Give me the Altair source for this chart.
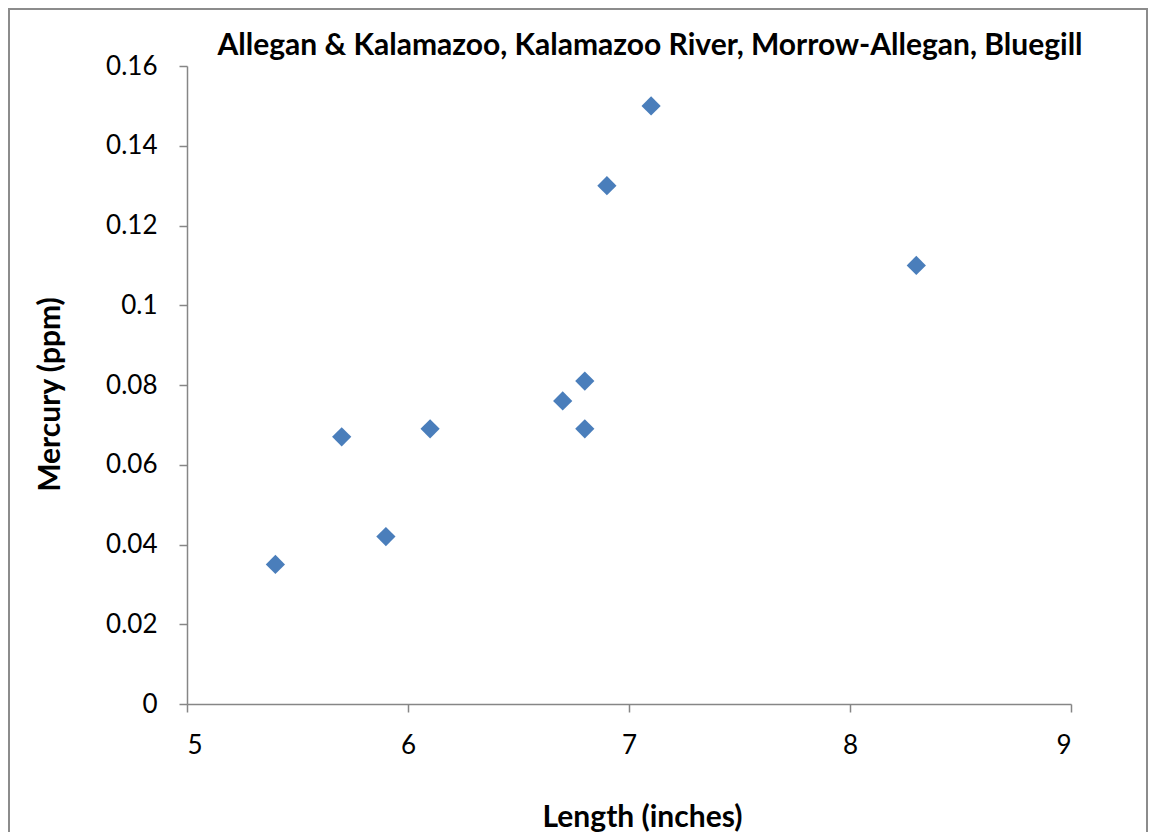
import altair as alt
import pandas as pd

length_in = [5.4, 5.7, 5.9, 6.1, 6.7, 6.8, 6.8, 6.9, 7.1, 8.3]
mercury_ppm = [0.035, 0.067, 0.042, 0.069, 0.076, 0.081, 0.069, 0.130, 0.150, 0.110]
x_ticks = [5, 6, 7, 8, 9]
y_ticks = [0, 0.02, 0.04, 0.06, 0.08, 0.10, 0.12, 0.14, 0.16]
title_text = "Allegan & Kalamazoo, Kalamazoo River, Morrow-Allegan, Bluegill"

df = pd.DataFrame({"Length": length_in, "Mercury": mercury_ppm})

FONT = "Lato"
AXIS_COLOR = "#868686"

points = alt.Chart(df).mark_point(
    shape="diamond", filled=True, size=370, color="#4A7EBB", opacity=1
).encode(
    x=alt.X("Length:Q",
            scale=alt.Scale(domain=[5, 9], nice=False, zero=False),
            axis=alt.Axis(values=x_ticks, format="d", title="Length (inches)",
                          titlePadding=44, labelPadding=20, titleX=455)),
    y=alt.Y("Mercury:Q",
            scale=alt.Scale(domain=[0, 0.16], nice=False),
            axis=alt.Axis(values=y_ticks, format="~g", title="Mercury (ppm)",
                          titlePadding=40, labelPadding=22, titleY=328)),
)

border = alt.Chart(df).mark_rect(
    fill=None, stroke="#8c8c8c", strokeWidth=1.5
).encode(
    x=alt.value(-178), x2=alt.value(960),
    y=alt.value(-57), y2=alt.value(800),
)

title = alt.Chart(pd.DataFrame({"t": [title_text]})).mark_text(
    font=FONT, fontSize=30, fontWeight="bold", color="#000000",
    align="center", baseline="middle"
).encode(text="t:N", x=alt.value(463), y=alt.value(-20))

chart = alt.layer(border, points, title).properties(
    width=884, height=638,
    padding={"left": 179, "top": 58, "right": 77, "bottom": 128},
    autosize=alt.AutoSizeParams(type="none"),
).configure_view(stroke=None).configure_axis(
    grid=False, domainColor=AXIS_COLOR, domainWidth=1.5, tickColor=AXIS_COLOR,
    tickWidth=1.5, tickSize=8, labelFont=FONT, labelFontSize=26, labelColor="#000000",
    titleFont=FONT, titleFontSize=30, titleFontWeight="bold", titleColor="#000000",
)

chart.save("out.html", embed_options={"renderer": "svg", "actions": False})
